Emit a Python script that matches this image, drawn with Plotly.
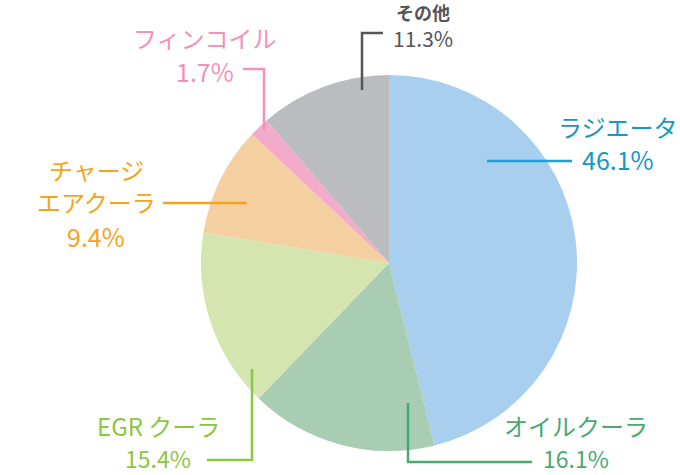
import plotly.graph_objects as go

labels = ["ラジエータ", "オイルクーラ", "EGR クーラ", "チャージエアクーラ", "フィンコイル", "その他"]
values = [46.1, 16.1, 15.4, 9.4, 1.7, 11.3]
label_lines = [["ラジエータ"], ["オイルクーラ"], ["EGR クーラ"], ["チャージ", "エアクーラ"], ["フィンコイル"], ["<b>その他</b>"]]
pct_text = ["46.1%", "16.1%", "15.4%", "9.4%", "1.7%", "11.3%"]
slice_colors = ["#a9cfee", "#a8cdb2", "#d4e5b0", "#f4d0a0", "#f2abcb", "#bbbcc0"]
text_colors = ["#1598c2", "#4aa872", "#8cc63e", "#f6a31e", "#f291bb", "#555555"]
line_colors = ["#1aa0d8", "#4aa872", "#8cc63e", "#f6a31e", "#f291bb", "#555555"]

W, H = 680, 475
cx, cy, r = 389, 263, 188

def px(x):
    return x / W

def py(y):
    return 1 - y / H

fig = go.Figure(go.Pie(
    labels=labels, values=values, sort=False, direction="clockwise", rotation=0,
    marker=dict(colors=slice_colors, line=dict(width=0)),
    textinfo="none", hoverinfo="label+percent", showlegend=False,
    domain=dict(x=[px(cx - r), px(cx + r)], y=[py(cy + r), py(cy - r)]),
))

FONT = "Noto Sans CJK JP, Noto Sans, sans-serif"

# per label: x center, y centers of each line (name lines then pct), font sizes
layout_spec = [
    (618, [126, 159], [24, 25]),
    (576, [425, 458], [24, 23]),
    (158, [425, 458], [24, 23]),
    (96, [169, 202, 236], [24, 24, 25]),
    (205, [38, 71], [24, 25]),
    (423, [12, 38], [18, 21]),
]
anns = []
for i, (x, ys, sizes) in enumerate(layout_spec):
    lines = label_lines[i] + [pct_text[i]]
    for t, y, s in zip(lines, ys, sizes):
        anns.append(dict(text=t, x=px(x), y=py(y), xref="paper", yref="paper",
                         showarrow=False, xanchor="center", yanchor="middle",
                         borderpad=0,
                         font=dict(family=FONT, size=s, color=text_colors[i])))

# leader lines: list of points in pixels, color index
leaders = [
    ([(487, 161), (572, 161)], 0),
    ([(408, 403), (408, 462), (532, 462)], 1),
    ([(252, 369), (252, 460), (207, 460)], 2),
    ([(163, 203), (247, 203)], 3),
    ([(243, 69), (264, 69), (264, 130)], 4),
    ([(383, 33), (362, 33), (362, 90)], 5),
]
shapes = []
for pts, ci in leaders:
    path = "M " + " L ".join(f"{px(x)},{py(y)}" for x, y in pts)
    shapes.append(dict(type="path", path=path, xref="paper", yref="paper",
                       line=dict(color=line_colors[ci], width=2.5)))

fig.update_layout(
    width=W, height=H, margin=dict(l=0, r=0, t=0, b=0),
    paper_bgcolor="white", plot_bgcolor="white",
    annotations=anns, shapes=shapes,
)
fig.write_html("out.html", config={"displayModeBar": False},
               post_script="document.body.style.margin='0';document.body.style.overflow='hidden';")
